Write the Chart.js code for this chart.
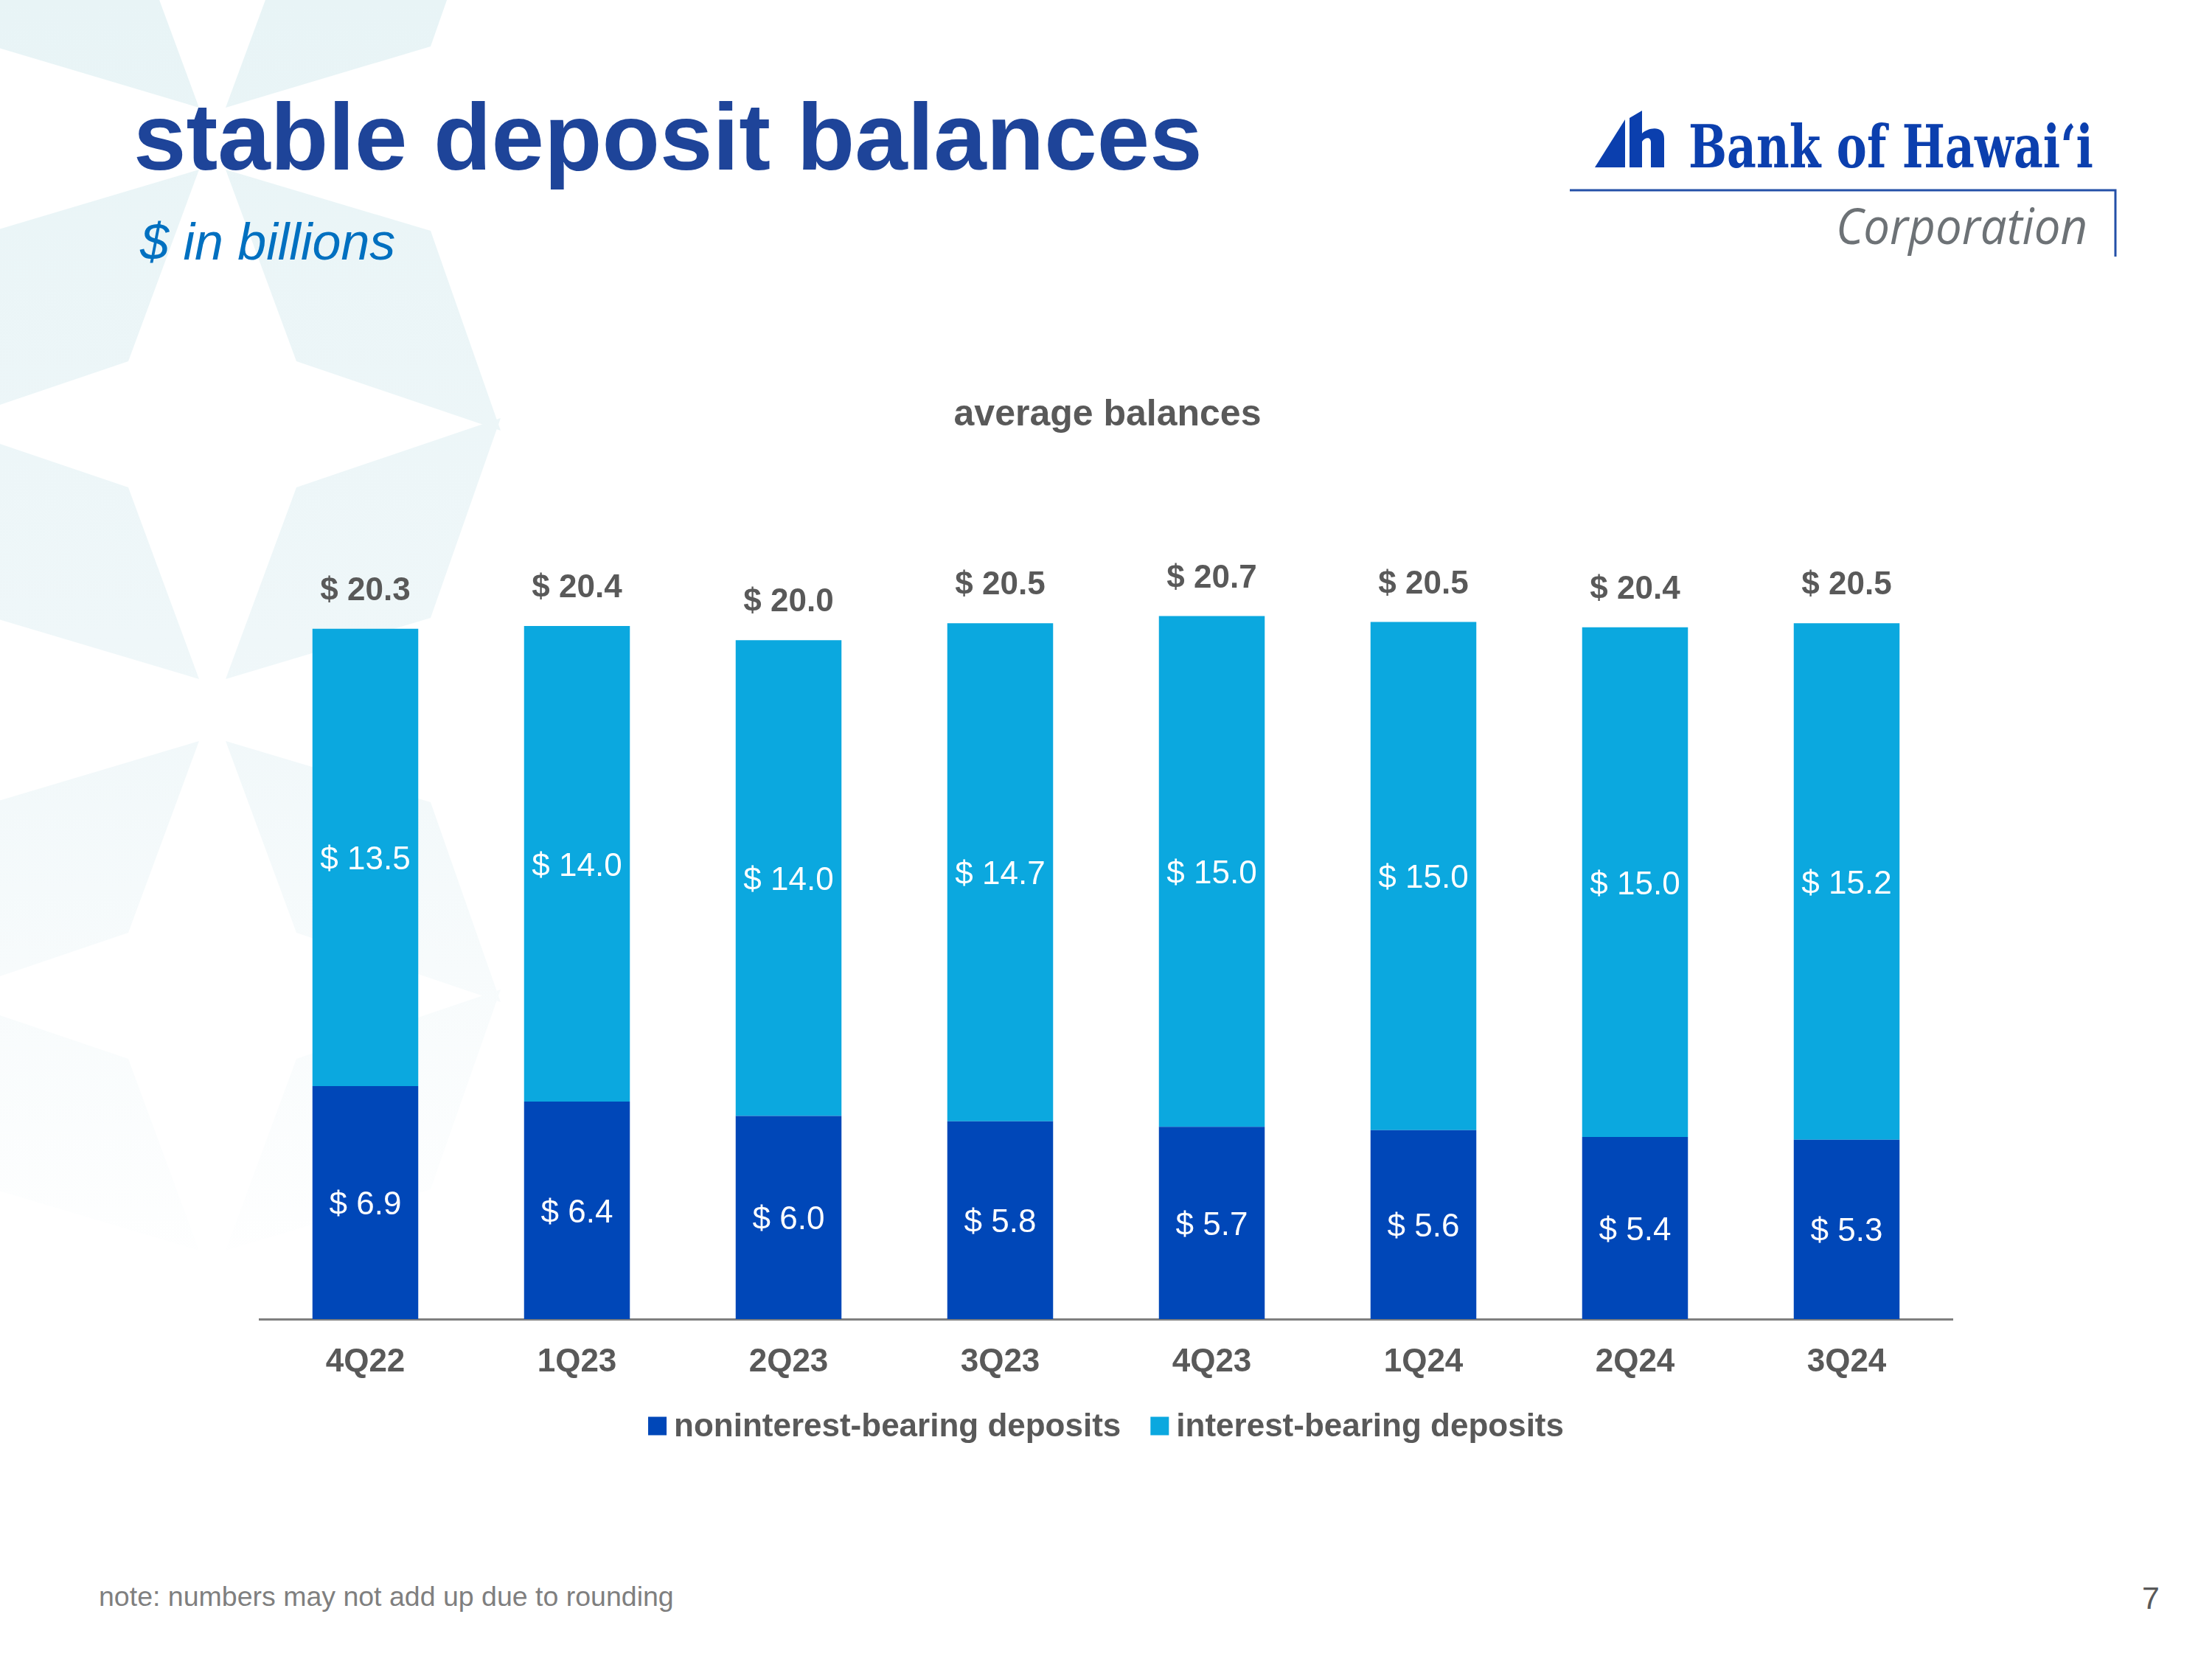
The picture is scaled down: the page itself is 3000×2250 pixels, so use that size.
<!DOCTYPE html>
<html>
<head>
<meta charset="utf-8">
<title>stable deposit balances</title>
<script src="https://cdn.jsdelivr.net/npm/chart.js@4.4.1/dist/chart.umd.min.js"></script>
<style>
  html, body { margin: 0; padding: 0; background: #ffffff; }
  #page { position: relative; width: 3000px; height: 2250px; overflow: hidden; }
  #deco, #chartWrap { position: absolute; left: 0; top: 0; }
  #chartWrap { width: 3000px; height: 2250px; }
</style>
</head>
<body>
<div id="page">
  <svg id="deco" width="3000" height="2250" viewBox="0 0 3000 2250">
    <defs>
      <linearGradient id="fade" gradientUnits="userSpaceOnUse" x1="0" y1="0" x2="0" y2="1750">
        <stop offset="0" stop-color="#E8F4F6"/>
        <stop offset="0.5" stop-color="#EFF7F9"/>
        <stop offset="1" stop-color="#FFFFFF"/>
      </linearGradient>
    </defs>
    <g id="petals" fill="url(#fade)"></g>

    <text x="181" y="230" font-family="'Liberation Sans', Arial, sans-serif" font-weight="bold" font-size="128.5" fill="#1E4499">stable deposit balances</text>
    <text x="190" y="352" font-family="'Liberation Sans', Arial, sans-serif" font-style="italic" font-size="70" fill="#0070C0">$ in billions</text>

    <!-- logo -->
    <g transform="translate(-17,0)">
      <g fill="#0B3FAE">
        <polygon points="2180,227 2221,162 2221,227"/>
        <polygon points="2227,160 2244,150 2244,227 2227,227"/>
        <path d="M2244 181 C2252 173 2274 169 2274 188 L2274 227 L2256 227 L2256 193 C2256 185 2248 186 2244 192 Z"/>
      </g>
      <text x="2307" y="227" textLength="549" lengthAdjust="spacingAndGlyphs" font-family="'DejaVu Serif', serif" font-weight="bold" font-size="80" fill="#0B3FAE">Bank of Hawaiʻi</text>
      <polyline points="2146,258 2886,258 2886,348" fill="none" stroke="#2450A8" stroke-width="3"/>
      <text x="2507" y="331" textLength="341" lengthAdjust="spacingAndGlyphs" font-family="'Open Sans', sans-serif" font-style="italic" font-size="68" fill="#6D7276">Corporation</text>
    </g>

    <text x="1502" y="577" text-anchor="middle" font-family="'Liberation Sans', Arial, sans-serif" font-weight="bold" font-size="50" fill="#595959">average balances</text>
    <text x="134" y="2178" font-family="'Liberation Sans', Arial, sans-serif" font-size="37.5" fill="#7F7F7F">note: numbers may not add up due to rounding</text>
    <text x="2929" y="2182" text-anchor="end" font-family="'Liberation Sans', Arial, sans-serif" font-size="43" fill="#595959">7</text>
  </svg>
  <div id="chartWrap"><canvas id="depositChart"></canvas></div>
</div>
<script>
const quarters = ['4Q22', '1Q23', '2Q23', '3Q23', '4Q23', '1Q24', '2Q24', '3Q24'];
const nonInterestBearing = [6.86, 6.40, 5.98, 5.82, 5.66, 5.56, 5.36, 5.28];
const interestBearing = [13.46, 14.00, 14.00, 14.66, 15.03, 14.96, 15.00, 15.20];

const seriesNames = ['noninterest-bearing deposits', 'interest-bearing deposits'];
const seriesColors = ['#0047B8', '#0BA8DF'];
const FONT = "'Liberation Sans', Arial, Helvetica, sans-serif";

// background star petals (decoration only)
const petalShape = [[18, 42], [296, 125], [391, 396], [114, 302]];
const petalCenters = [[288, 188], [288, 963], [288, 1738]];
const petalGroup = document.getElementById('petals');
petalCenters.forEach(([cx, cy]) => {
    [[1, 1], [1, -1], [-1, 1], [-1, -1]].forEach(([sx, sy]) => {
        const poly = document.createElementNS('http://www.w3.org/2000/svg', 'polygon');
        poly.setAttribute('points', petalShape.map(([px, py]) => (cx + sx * px) + ',' + (cy + sy * py)).join(' '));
        petalGroup.appendChild(poly);
    });
});

const fmt = v => '$ ' + v.toFixed(1);

// value labels inside each segment and the totals above each bar
const barLabels = {
    id: 'barLabels',
    afterDatasetsDraw(chart) {
        const ctx = chart.ctx;
        ctx.save();
        ctx.textAlign = 'center';
        ctx.textBaseline = 'middle';

        ctx.fillStyle = '#FFFFFF';
        ctx.font = '44px ' + FONT;
        chart.data.datasets.forEach((ds, i) => {
            chart.getDatasetMeta(i).data.forEach((bar, j) => {
                const { x, y, base } = bar.getProps(['x', 'y', 'base'], true);
                ctx.fillText(fmt(ds.data[j]), x, (y + base) / 2 + 4);
            });
        });

        ctx.fillStyle = '#595959';
        ctx.font = 'bold 44px ' + FONT;
        const topMeta = chart.getDatasetMeta(chart.data.datasets.length - 1);
        topMeta.data.forEach((bar, j) => {
            const total = nonInterestBearing[j] + interestBearing[j];
            ctx.fillText(fmt(total), bar.x, bar.y - 51);
        });
        ctx.restore();
    }
};

// legend drawn below the axis, square swatch close to its text
const bottomLegend = {
    id: 'bottomLegend',
    afterDraw(chart) {
        const ctx = chart.ctx;
        const box = 25, gap = 10, spacing = 40, y = 1936;
        ctx.save();
        ctx.font = 'bold 44px ' + FONT;
        ctx.textBaseline = 'middle';
        ctx.textAlign = 'left';
        const items = chart.data.datasets.map(ds => ({
            text: ds.label, color: ds.backgroundColor, w: box + gap + ctx.measureText(ds.label).width
        }));
        const total = items.reduce((s, it) => s + it.w, 0) + spacing * (items.length - 1);
        const area = chart.chartArea;
        let x = (area.left + area.right) / 2 - total / 2;
        items.forEach(it => {
            ctx.fillStyle = it.color;
            ctx.fillRect(x, y - box / 2 - 2, box, box);
            ctx.fillStyle = '#595959';
            ctx.fillText(it.text, x + box + gap, y);
            x += it.w + spacing;
        });
        ctx.restore();
    }
};

new Chart(document.getElementById('depositChart').getContext('2d'), {
    type: 'bar',
    data: {
        labels: quarters,
        datasets: [
            {
                label: seriesNames[0],
                data: nonInterestBearing,
                backgroundColor: seriesColors[0],
                barPercentage: 0.5,
                categoryPercentage: 1.0
            },
            {
                label: seriesNames[1],
                data: interestBearing,
                backgroundColor: seriesColors[1],
                barPercentage: 0.5,
                categoryPercentage: 1.0
            }
        ]
    },
    options: {
        responsive: true,
        maintainAspectRatio: false,
        devicePixelRatio: 1,
        animation: false,
        layout: { padding: { left: 352, right: 352, top: 637, bottom: 375 } },
        plugins: {
            legend: { display: false },
            tooltip: { enabled: false }
        },
        scales: {
            x: {
                stacked: true,
                grid: { display: false, drawTicks: false },
                border: { display: true, color: '#7F7F7F', width: 3 },
                ticks: {
                    color: '#595959',
                    padding: 32,
                    font: { family: FONT, size: 44, weight: 'bold' }
                },
                afterFit(scale) { scale.height = 86; }
            },
            y: { stacked: true, display: false, min: 0, max: 25 }
        }
    },
    plugins: [barLabels, bottomLegend]
});
</script>
</body>
</html>
